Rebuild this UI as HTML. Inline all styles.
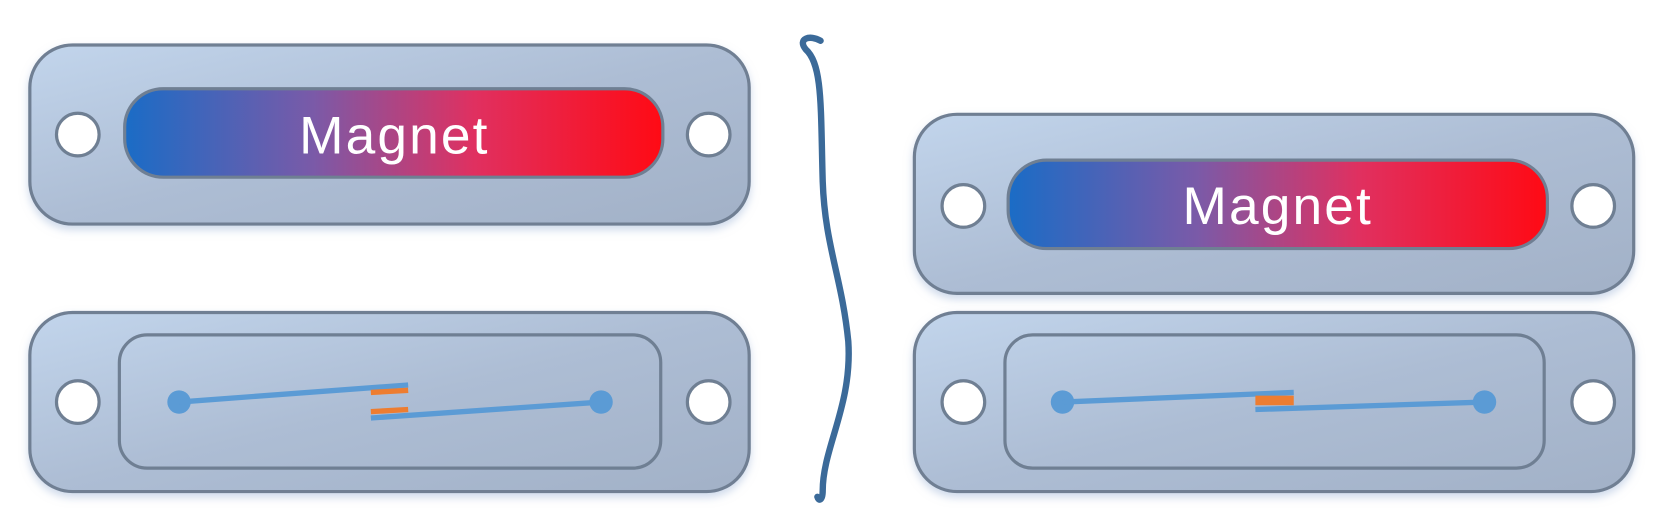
<!DOCTYPE html>
<html><head><meta charset="utf-8"><style>
html,body{margin:0;padding:0;background:#fff;}
svg{display:block;}
</style></head><body>
<svg width="1671" height="527" viewBox="0 0 1568 494" xmlns="http://www.w3.org/2000/svg">
<defs>
<linearGradient id="plate" x1="0" y1="0" x2="1" y2="1">
<stop offset="0" stop-color="#c2d5ec"/><stop offset="0.5" stop-color="#adbdd4"/><stop offset="1" stop-color="#a2b1c7"/>
</linearGradient>
<linearGradient id="mag" x1="0" y1="0" x2="1" y2="0">
<stop offset="0" stop-color="#1a6cc6"/><stop offset="0.35" stop-color="#7a5aa8"/><stop offset="0.65" stop-color="#e03060"/><stop offset="1" stop-color="#ff0a14"/>
</linearGradient>
<filter id="sh" x="-5%" y="-10%" width="110%" height="130%"><feDropShadow dx="0" dy="4" stdDeviation="4" flood-color="#9db4d6" flood-opacity="0.5"/></filter>
</defs>
<g>
<rect x="28" y="42" width="675" height="168" rx="40" fill="url(#plate)" stroke="#6f7f93" stroke-width="3" filter="url(#sh)"/>
<circle cx="73" cy="126" r="20" fill="#fff" stroke="#6f7f93" stroke-width="3"/>
<circle cx="665" cy="126" r="20" fill="#fff" stroke="#6f7f93" stroke-width="3"/>
<rect x="117" y="83" width="505" height="83" rx="36" fill="url(#mag)" stroke="#6f7f93" stroke-width="3"/>
<text x="370" y="144" text-anchor="middle" font-family="Liberation Sans, sans-serif" font-size="50" letter-spacing="2" fill="#fff">Magnet</text>
</g>
<g>
<rect x="28" y="293" width="675" height="168" rx="40" fill="url(#plate)" stroke="#6f7f93" stroke-width="3" filter="url(#sh)"/>
<circle cx="73" cy="377" r="20" fill="#fff" stroke="#6f7f93" stroke-width="3"/>
<circle cx="665" cy="377" r="20" fill="#fff" stroke="#6f7f93" stroke-width="3"/>
<rect x="112" y="314" width="508" height="125" rx="26" fill="none" stroke="#6f7f93" stroke-width="3"/>
<circle cx="168" cy="377" r="11" fill="#5b9bd5"/>
<line x1="168" y1="377" x2="383" y2="361" stroke="#5b9bd5" stroke-width="5"/>
<line x1="348" y1="368" x2="383" y2="366" stroke="#ed7d31" stroke-width="5"/>
<line x1="348" y1="386" x2="383" y2="384" stroke="#ed7d31" stroke-width="5"/>
<line x1="348" y1="392" x2="564" y2="377" stroke="#5b9bd5" stroke-width="5"/>
<circle cx="564" cy="377" r="11" fill="#5b9bd5"/>
</g>
<path d="M770 38 C760 32 748 36 756 46 C772 60 770 100 772 170 C774 230 790 260 796 320 C800 380 772 420 772 460 C772 470 768 470 767 466" fill="none" stroke="#3b6a99" stroke-width="6" stroke-linecap="round"/>
<g>
<rect x="858" y="107" width="675" height="168" rx="40" fill="url(#plate)" stroke="#6f7f93" stroke-width="3" filter="url(#sh)"/>
<circle cx="904" cy="193" r="20" fill="#fff" stroke="#6f7f93" stroke-width="3"/>
<circle cx="1495" cy="193" r="20" fill="#fff" stroke="#6f7f93" stroke-width="3"/>
<rect x="946" y="150" width="506" height="83" rx="36" fill="url(#mag)" stroke="#6f7f93" stroke-width="3"/>
<text x="1199" y="210" text-anchor="middle" font-family="Liberation Sans, sans-serif" font-size="50" letter-spacing="2" fill="#fff">Magnet</text>
</g>
<g>
<rect x="858" y="293" width="675" height="168" rx="40" fill="url(#plate)" stroke="#6f7f93" stroke-width="3" filter="url(#sh)"/>
<circle cx="904" cy="377" r="20" fill="#fff" stroke="#6f7f93" stroke-width="3"/>
<circle cx="1495" cy="377" r="20" fill="#fff" stroke="#6f7f93" stroke-width="3"/>
<rect x="943" y="314" width="506" height="125" rx="26" fill="none" stroke="#6f7f93" stroke-width="3"/>
<circle cx="997" cy="377" r="11" fill="#5b9bd5"/>
<line x1="997" y1="377" x2="1214" y2="368" stroke="#5b9bd5" stroke-width="5"/>
<rect x="1178" y="371" width="36" height="9" fill="#ed7d31"/>
<line x1="1178" y1="384" x2="1393" y2="377" stroke="#5b9bd5" stroke-width="5"/>
<circle cx="1393" cy="377" r="11" fill="#5b9bd5"/>
</g>
</svg>
</body></html>
